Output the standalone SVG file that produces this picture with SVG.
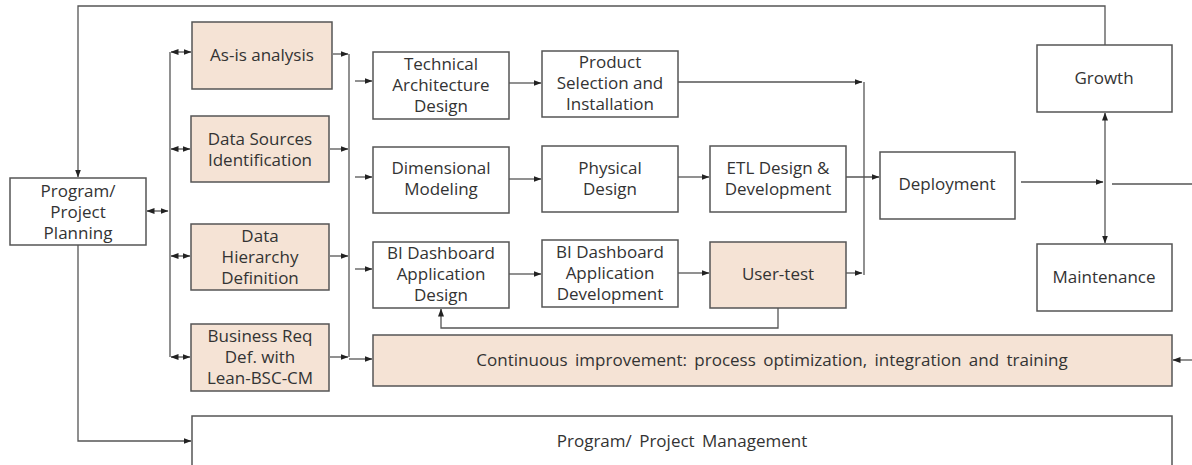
<svg xmlns="http://www.w3.org/2000/svg" width="1192" height="465" viewBox="0 0 1192 465">
<style>
.box{fill:#ffffff;stroke:#555555;stroke-width:1.5}
.ob{fill:#f5e3d5;stroke:#555555;stroke-width:1.5}
.t{font-family:"Open Sans","Liberation Sans",Arial,sans-serif;font-size:17px;fill:#333333;text-anchor:middle;dominant-baseline:central}
.w{word-spacing:3px}
.c{fill:none;stroke:#555555;stroke-width:1.3}
</style>
<defs>
<marker id="ah" viewBox="0 0 8 8" refX="7.5" refY="4" markerWidth="8" markerHeight="8" markerUnits="userSpaceOnUse" orient="auto-start-reverse">
<path d="M0,1 L8,4 L0,7 Z" fill="#222222"/>
</marker>
</defs>
<rect width="1192" height="465" fill="#ffffff"/>

<g id="connectors">
<path class="c" d="M1105,45 V6 H78 V177" marker-end="url(#ah)"/>
<path class="c" d="M78,245 V441 H191" marker-end="url(#ah)"/>
<path class="c" d="M147,211 H168" marker-start="url(#ah)" marker-end="url(#ah)"/>
<path class="c" d="M170,52 V357"/>
<path class="c" d="M171,52 H191" marker-start="url(#ah)" marker-end="url(#ah)"/>
<path class="c" d="M171,149 H190" marker-start="url(#ah)" marker-end="url(#ah)"/>
<path class="c" d="M171,256 H190" marker-start="url(#ah)" marker-end="url(#ah)"/>
<path class="c" d="M171,357 H190" marker-start="url(#ah)" marker-end="url(#ah)"/>
<path class="c" d="M333,54 H348" marker-end="url(#ah)"/>
<path class="c" d="M330,149 H348" marker-end="url(#ah)"/>
<path class="c" d="M330,256 H348" marker-end="url(#ah)"/>
<path class="c" d="M330,357 H348" marker-end="url(#ah)"/>
<path class="c" d="M349,54 V357"/>
<path class="c" d="M355,81 H372" marker-end="url(#ah)"/>
<path class="c" d="M355,177 H372" marker-end="url(#ah)"/>
<path class="c" d="M355,269 H372" marker-end="url(#ah)"/>
<path class="c" d="M349,359 H372" marker-end="url(#ah)"/>
<path class="c" d="M509,83 H541" marker-end="url(#ah)"/>
<path class="c" d="M678,82 H862" marker-end="url(#ah)"/>
<path class="c" d="M864,82 V275"/>
<path class="c" d="M509,179 H541" marker-end="url(#ah)"/>
<path class="c" d="M678,177 H709" marker-end="url(#ah)"/>
<path class="c" d="M846,177 H879" marker-end="url(#ah)"/>
<path class="c" d="M509,274 H541" marker-end="url(#ah)"/>
<path class="c" d="M678,273 H709" marker-end="url(#ah)"/>
<path class="c" d="M846,273 H862" marker-end="url(#ah)"/>
<path class="c" d="M778,308 V328 H441 V309" marker-end="url(#ah)"/>
<path class="c" d="M1021,182 H1103" marker-end="url(#ah)"/>
<path class="c" d="M1112,184 H1192"/>
<path class="c" d="M1105,113 V243" marker-start="url(#ah)" marker-end="url(#ah)"/>
<path class="c" d="M1192,360 H1173" marker-end="url(#ah)"/>
</g>

<g id="planning"><rect class="box" x="10" y="178" width="136" height="67"/>
<text class="t" x="78" y="190">Program/</text><text class="t" x="78" y="211">Project</text><text class="t" x="78" y="232">Planning</text></g>

<g id="asis"><rect class="ob" x="192" y="22" width="140" height="67"/>
<text class="t" x="262" y="54">As-is analysis</text></g>
<g id="datasources"><rect class="ob" x="191" y="116" width="138" height="66"/>
<text class="t" x="260" y="138.5">Data Sources</text><text class="t" x="260" y="159.5">Identification</text></g>
<g id="hierarchy"><rect class="ob" x="191" y="224" width="138" height="66"/>
<text class="t" x="260" y="235">Data</text><text class="t" x="260" y="256">Hierarchy</text><text class="t" x="260" y="277">Definition</text></g>
<g id="businessreq"><rect class="ob" x="191" y="324" width="138" height="67"/>
<text class="t" x="260" y="335">Business Req</text><text class="t" x="260" y="356">Def. with</text><text class="t" x="260" y="377">Lean-BSC-CM</text></g>

<g id="techarch"><rect class="box" x="373" y="52" width="136" height="67"/>
<text class="t" x="441" y="63">Technical</text><text class="t" x="441" y="84">Architecture</text><text class="t" x="441" y="105">Design</text></g>
<g id="product"><rect class="box" x="542" y="51" width="136" height="66"/>
<text class="t" x="610" y="61.5">Product</text><text class="t" x="610" y="82.5">Selection and</text><text class="t" x="610" y="103.5">Installation</text></g>

<g id="dimensional"><rect class="box" x="373" y="147" width="136" height="66"/>
<text class="t" x="441" y="167.5">Dimensional</text><text class="t" x="441" y="188.5">Modeling</text></g>
<g id="physical"><rect class="box" x="542" y="146" width="136" height="66"/>
<text class="t" x="610" y="167.5">Physical</text><text class="t" x="610" y="188.5">Design</text></g>
<g id="etl"><rect class="box" x="710" y="146" width="136" height="66"/>
<text class="t" x="778" y="167.5">ETL Design &amp;</text><text class="t" x="778" y="188.5">Development</text></g>

<g id="bidesign"><rect class="box" x="373" y="242" width="136" height="66"/>
<text class="t" x="441" y="252.5">BI Dashboard</text><text class="t" x="441" y="273.5">Application</text><text class="t" x="441" y="294.5">Design</text></g>
<g id="bidev"><rect class="box" x="542" y="240" width="136" height="67"/>
<text class="t" x="610" y="251.5">BI Dashboard</text><text class="t" x="610" y="272.5">Application</text><text class="t" x="610" y="293.5">Development</text></g>
<g id="usertest"><rect class="ob" x="710" y="242" width="136" height="66"/>
<text class="t" x="778" y="273">User-test</text></g>

<g id="deployment"><rect class="box" x="880" y="152" width="135" height="67"/>
<text class="t" x="947" y="183">Deployment</text></g>
<g id="growth"><rect class="box" x="1037" y="45" width="135" height="67"/>
<text class="t" x="1104" y="77">Growth</text></g>
<g id="maintenance"><rect class="box" x="1037" y="244" width="135" height="67"/>
<text class="t" x="1104" y="276">Maintenance</text></g>

<g id="continuous"><rect class="ob" x="373" y="335" width="799" height="51"/>
<text class="t w" x="772" y="359">Continuous improvement: process optimization, integration and training</text></g>

<g id="management"><path class="box" d="M192,470 V416 H1172 V470"/>
<text class="t w" x="682" y="440">Program/ Project Management</text></g>
</svg>
